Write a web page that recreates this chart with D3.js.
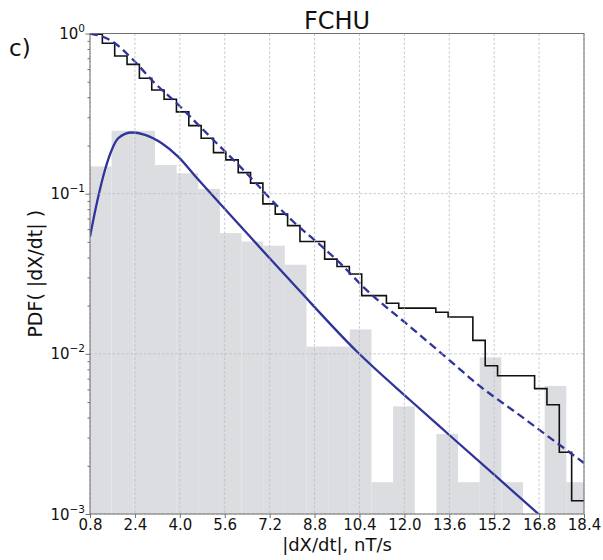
<!DOCTYPE html>
<html><head><meta charset="utf-8">
<script src="https://cdn.jsdelivr.net/npm/d3@7"></script>
<style>body{margin:0;background:#fff}svg{display:block;font-family:"DejaVu Sans",sans-serif}</style>
</head><body><svg id="c" width="603" height="560"></svg>
<script>
// ---------- data ----------
const xTicks = [0.8, 2.4, 4.0, 5.6, 7.2, 8.8, 10.4, 12.0, 13.6, 15.2, 16.8, 18.4];
const yTicks = [1e-3, 1e-2, 1e-1, 1];
const yTickExp = ["\u22123", "\u22122", "\u22121", "0"];

// histogram (density), equal-width bins
const histStart = 0.8;
const histWidth = 0.7713;
const histDensity = [0.148, 0.247, 0.247, 0.151, 0.134, 0.107, 0.0567, 0.0503, 0.0473, 0.036,
  0.0111, 0.0111, 0.0142, 0.00158, 0.0047, 0, 0.00316, 0.00158, 0.0095, 0.00158, 0, 0.0063, 0.00158];

// empirical complementary CDF (step line)
const ccdfStart = 0.8;
const ccdfWidth = 0.44;
const ccdfValues = [0.99, 0.869, 0.724, 0.642, 0.525, 0.444, 0.389, 0.324, 0.266, 0.222,
  0.1805, 0.1625, 0.1354, 0.1163, 0.0864, 0.0745, 0.0632, 0.0503, 0.0503, 0.039,
  0.0351, 0.0315, 0.0231, 0.0231, 0.0207, 0.0193, 0.0193, 0.0193, 0.0182, 0.01697,
  0.01697, 0.01213, 0.00843, 0.0073, 0.0073, 0.0073, 0.00606, 0.00481, 0.00243, 0.00121];

// fitted PDF (solid) read at sample points
const fitPdfX = [0.8, 0.918, 1.096, 1.335, 1.574, 1.809, 2.287, 2.761, 3.356, 3.948, 4.543,
  5.435, 6.148, 7.218, 8.169, 10.308, 12.208, 13.63, 16.78, 18.4];
const fitPdfY = [0.054, 0.0686, 0.0959, 0.141, 0.1875, 0.222, 0.241, 0.2329, 0.2064, 0.1697, 0.1291,
  0.0864, 0.063, 0.0392, 0.02584, 0.01034, 0.00513, 0.00308, 0.001, 0.00056];

// fitted CCDF (dashed) read at sample points
const fitCcdfX = [0.8, 1.513, 2.344, 3.057, 3.891, 4.722, 5.435, 6.148, 6.861, 7.335, 8.048,
  8.999, 9.712, 10.543, 12.208, 13.93, 14.408, 16.13, 18.4];
const fitCcdfY = [1.0, 0.911, 0.683, 0.5, 0.367, 0.262, 0.1967, 0.1476, 0.109, 0.0887, 0.0668,
  0.0479, 0.0368, 0.0261, 0.01474, 0.00815, 0.00689, 0.00411, 0.00208];

// ---------- drawing ----------
const L = 90, R = 584, T = 33.5, B = 514;
const svg = d3.select("#c");
const x = d3.scaleLinear().domain([0.8, 18.4]).range([L, R]);
const y = d3.scaleLog().domain([1e-3, 1]).range([B, T]);
const blue = "#30339a";

svg.append("defs").append("clipPath").attr("id", "clip")
  .append("rect").attr("x", L).attr("y", T).attr("width", R - L).attr("height", B - T);

const plot = svg.append("g").attr("clip-path", "url(#clip)");

// histogram bars
plot.selectAll("rect.bar").data(histDensity.map((v, i) => ({v, i})).filter(d => d.v > 0))
  .enter().append("rect").attr("class", "bar")
  .attr("x", d => x(histStart + d.i * histWidth))
  .attr("width", d => x(histStart + (d.i + 1) * histWidth) - x(histStart + d.i * histWidth))
  .attr("y", d => y(d.v))
  .attr("height", d => B - y(d.v))
  .attr("fill", "#dcdde0");

// grid
const grid = svg.append("g");
grid.selectAll("line.gx").data(xTicks).enter().append("line")
  .attr("x1", d => x(d)).attr("x2", d => x(d)).attr("y1", T).attr("y2", B)
  .attr("stroke", "#bdbdbd").attr("stroke-width", 0.8).attr("stroke-dasharray", "2.5,2");
grid.selectAll("line.gy").data(yTicks).enter().append("line")
  .attr("x1", L).attr("x2", R).attr("y1", d => y(d)).attr("y2", d => y(d))
  .attr("stroke", "#bdbdbd").attr("stroke-width", 0.8).attr("stroke-dasharray", "2.5,2");

// step line
const stepPts = ccdfValues.map((v, k) => [ccdfStart + k * ccdfWidth, v]);
stepPts.push([ccdfStart + ccdfValues.length * ccdfWidth, ccdfValues[ccdfValues.length - 1]]);
plot.append("path").datum(stepPts)
  .attr("d", d3.line().x(d => x(d[0])).y(d => y(d[1])).curve(d3.curveStepAfter))
  .attr("fill", "none").attr("stroke", "#111").attr("stroke-width", 1.6);

// fitted PDF
plot.append("path").datum(fitPdfX.map((v, i) => [v, fitPdfY[i]]))
  .attr("d", d3.line().x(d => x(d[0])).y(d => y(d[1])).curve(d3.curveMonotoneX))
  .attr("fill", "none").attr("stroke", blue).attr("stroke-width", 2.3);

// fitted CCDF
plot.append("path").datum(fitCcdfX.map((v, i) => [v, fitCcdfY[i]]))
  .attr("d", d3.line().x(d => x(d[0])).y(d => y(d[1])).curve(d3.curveMonotoneX))
  .attr("fill", "none").attr("stroke", blue).attr("stroke-width", 2.3)
  .attr("stroke-dasharray", "8,4.5");

// frame
svg.append("rect").attr("x", L).attr("y", T).attr("width", R - L).attr("height", B - T)
  .attr("fill", "none").attr("stroke", "#707070").attr("stroke-width", 1);

// x axis
const xAxis = svg.append("g").attr("transform", `translate(0,${B})`)
  .call(d3.axisBottom(x).tickValues(xTicks).tickFormat(d3.format(".1f")).tickSize(4).tickPadding(1.5));
xAxis.select(".domain").remove();
xAxis.selectAll("line").attr("stroke", "#707070");
xAxis.selectAll("text").attr("font-size", 15).attr("fill", "#111").attr("font-family", "DejaVu Sans");

// y axis minor ticks
const minor = [];
[1e-3, 1e-2, 1e-1].forEach(dec => { for (let m = 2; m <= 9; m++) minor.push(dec * m); });
const yMinor = svg.append("g").attr("transform", `translate(${L},0)`)
  .call(d3.axisLeft(y).tickValues(minor).tickFormat("").tickSize(2.5));
yMinor.select(".domain").remove();
yMinor.selectAll("line").attr("stroke", "#707070");

// y axis major ticks
const yMajor = svg.append("g").attr("transform", `translate(${L},0)`)
  .call(d3.axisLeft(y).tickValues(yTicks).tickFormat("").tickSize(4.5));
yMajor.select(".domain").remove();
yMajor.selectAll("line").attr("stroke", "#707070");

const yl = svg.append("g");
yTicks.forEach((t, i) => {
  const txt = yl.append("text").attr("x", 85).attr("y", y(t) + 5.5)
    .attr("text-anchor", "end").attr("fill", "#111").attr("font-size", 15);
  txt.append("tspan").text("10");
  txt.append("tspan").attr("dy", -7).attr("font-size", 10.5).text(yTickExp[i]);
});

// titles
svg.append("text").attr("x", (L + R) / 2).attr("y", 29).attr("text-anchor", "middle")
  .attr("font-size", 24).attr("fill", "#111").text("FCHU");
svg.append("text").attr("x", 9).attr("y", 56).attr("font-size", 23).attr("fill", "#111").text("c)");
svg.append("text").attr("x", (L + R) / 2).attr("y", 551).attr("text-anchor", "middle")
  .attr("font-size", 18).attr("fill", "#111").text("|dX/dt|, nT/s");
svg.append("text").attr("transform", `translate(42,${(T + B) / 2}) rotate(-90)`)
  .attr("text-anchor", "middle").attr("font-size", 19).attr("fill", "#111").text("PDF( |dX/dt| )");
</script></body></html>
